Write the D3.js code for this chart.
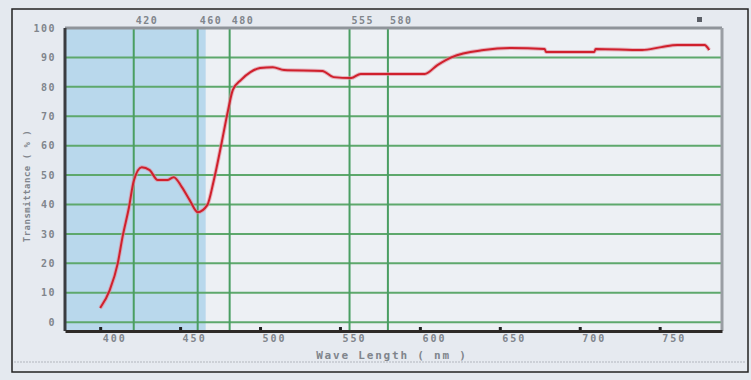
<!DOCTYPE html>
<html lang="en">
<head>
<meta charset="UTF-8">
<title>Transmittance</title>
<script src="https://d3js.org/d3.v7.min.js"></script>
<style>
  body { margin: 0; background: #e4e9ef; }
  svg text { font-family: "DejaVu Sans Mono", monospace; font-weight: bold; fill: #80858c; }
</style>
</head>
<body>
<svg id="chart" width="751" height="380"></svg>
<script>
// wavelength (nm) and transmittance (%)
var waveLength = [400, 406, 411, 414, 418, 421, 426, 431, 436, 442, 446, 451, 456, 461, 467, 471,
                  476, 480, 483, 488, 494, 500, 508, 515, 539, 546, 557, 563, 603, 611, 620, 640,
                  657, 678, 679, 709, 710, 739, 751, 761, 778, 781];
var transmittance = [4.8, 10.9, 20, 29, 39, 48, 52.7, 51.7, 48.3, 48.3, 49.3, 46, 41.5, 37.4, 39.8, 48,
                     61, 72, 79, 82.3, 85, 86.4, 86.7, 85.7, 85.4, 83.3, 83, 84.4, 84.4, 87.4, 90.1, 92.5,
                     93.2, 92.9, 91.8, 91.8, 92.9, 92.5, 93.5, 94.2, 94.2, 92.5];
var xTicks = [400, 450, 500, 550, 600, 650, 700, 750];
var yTicks = [0, 10, 20, 30, 40, 50, 60, 70, 80, 90, 100];
var markerLines = [421, 461, 481, 556, 580];
var markerLabels = ["420", "460", "480", "555", "580"];
var blueBand = [378, 466];

function drawChart() {
    var svg = d3.select("#chart");
    var pL = 65, pR = 722, pT = 28, pB = 331;

    var x = d3.scaleLinear().domain([378, 789]).range([pL, pR]);
    var y = d3.scaleLinear().domain([-3, 100]).range([pB, pT]);

    // outer frame of the figure
    svg.append("rect").attr("x", 12).attr("y", 9).attr("width", 736).attr("height", 363)
        .attr("fill", "#e6eaf0").attr("stroke", "#222").attr("stroke-width", 1.5);
    svg.append("line").attr("x1", 14).attr("x2", 746).attr("y1", 362).attr("y2", 362)
        .attr("stroke", "#c4c8ce").attr("stroke-width", 1.5).attr("stroke-dasharray", "2,1");

    // plot background + blue band
    svg.append("rect").attr("x", pL).attr("y", pT).attr("width", pR - pL).attr("height", pB - pT)
        .attr("fill", "#edf0f4");
    svg.append("rect").attr("x", x(blueBand[0])).attr("y", pT)
        .attr("width", x(blueBand[1]) - x(blueBand[0])).attr("height", pB - pT)
        .attr("fill", "#b9d8ec");

    // horizontal grid
    svg.append("g").selectAll("line").data(yTicks).enter().append("line")
        .attr("x1", pL).attr("x2", pR)
        .attr("y1", function (d) { return y(d); }).attr("y2", function (d) { return y(d); })
        .attr("stroke", "#5ea86c").attr("stroke-width", 2);

    // vertical marker lines
    svg.append("g").selectAll("line").data(markerLines).enter().append("line")
        .attr("x1", function (d) { return x(d); }).attr("x2", function (d) { return x(d); })
        .attr("y1", pT).attr("y2", pB)
        .attr("stroke", "#4a9e62").attr("stroke-width", 2);

    svg.append("g").selectAll("text").data(markerLines).enter().append("text")
        .attr("x", function (d) { return x(d) + 2; }).attr("y", pT - 4)
        .attr("font-size", 10).attr("letter-spacing", 1.5)
        .text(function (d, i) { return markerLabels[i]; });

    // frame of the plot
    svg.append("line").attr("x1", pL).attr("x2", pR).attr("y1", pT).attr("y2", pT)
        .attr("stroke", "#8f949a").attr("stroke-width", 3);
    svg.append("line").attr("x1", pR).attr("x2", pR).attr("y1", pT).attr("y2", pB)
        .attr("stroke", "#9a9ea4").attr("stroke-width", 3);
    svg.append("line").attr("x1", pL).attr("x2", pL).attr("y1", pT).attr("y2", pB)
        .attr("stroke", "#3a3c40").attr("stroke-width", 3);

    // x axis
    var xAxis = svg.append("g").attr("transform", "translate(0," + pB + ")")
        .call(d3.axisBottom(x).tickValues(xTicks).tickSize(0).tickPadding(0));
    xAxis.select(".domain").attr("stroke", "#2e2a28").attr("stroke-width", 3);
    xAxis.selectAll(".tick text").attr("text-anchor", "start").attr("dx", 2).attr("dy", 11)
        .attr("font-size", 10).attr("letter-spacing", 2)
        .style("font-family", "DejaVu Sans Mono, monospace").style("font-weight", "bold").attr("fill", "#80858c");
    xAxis.selectAll(".tick").append("rect").attr("x", -1.5).attr("y", -4).attr("width", 3).attr("height", 3)
        .attr("fill", "#222");

    // y axis labels
    var yAxis = svg.append("g").attr("transform", "translate(" + pL + ",0)")
        .call(d3.axisLeft(y).tickValues(yTicks).tickSize(0).tickPadding(9));
    yAxis.select(".domain").remove();
    yAxis.selectAll(".tick text").attr("font-size", 10).attr("letter-spacing", 1.5)
        .style("font-family", "DejaVu Sans Mono, monospace").style("font-weight", "bold").attr("fill", "#80858c");

    // axis titles
    svg.append("text").attr("x", 392).attr("y", 359).attr("text-anchor", "middle")
        .attr("font-size", 11).attr("letter-spacing", 1.8).text("Wave Length ( nm )");
    svg.append("text").attr("transform", "translate(30,186) rotate(-90)").attr("text-anchor", "middle")
        .attr("font-size", 9).attr("letter-spacing", 0.5).text("Transmittance ( % )");

    // little legend marker top right
    svg.append("rect").attr("x", 697).attr("y", 17).attr("width", 5).attr("height", 5).attr("fill", "#5a5e66");

    // transmittance curve
    var pts = waveLength.map(function (w, i) { return [w, transmittance[i]]; });
    var line = d3.line()
        .x(function (d) { return x(d[0]); })
        .y(function (d) { return y(d[1]); })
        .curve(d3.curveMonotoneX);
    svg.append("path").datum(pts).attr("d", line)
        .attr("fill", "none").attr("stroke", "#e08a9a").attr("stroke-width", 4).attr("opacity", 0.6);
    svg.append("path").datum(pts).attr("d", line)
        .attr("fill", "none").attr("stroke", "#d0202c").attr("stroke-width", 2);
}

drawChart();
</script>
</body>
</html>
